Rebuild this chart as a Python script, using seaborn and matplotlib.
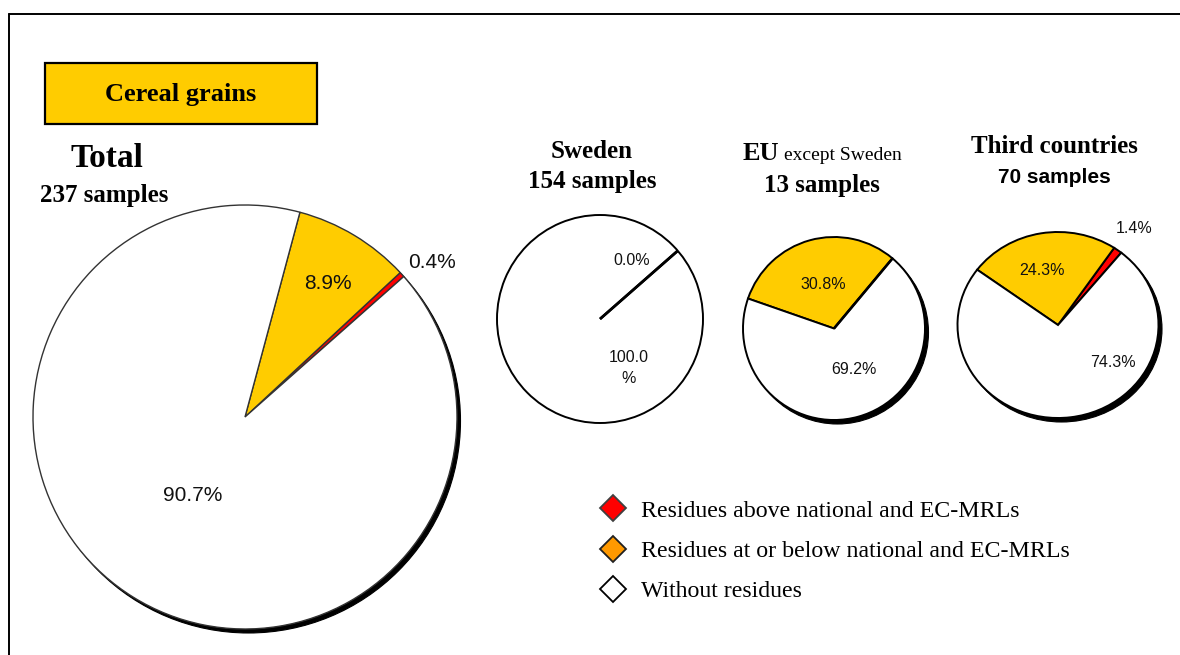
import matplotlib
matplotlib.use("Agg")
import numpy as np
import matplotlib.pyplot as plt
from matplotlib.patches import Circle, Rectangle
from matplotlib.lines import Line2D
import seaborn as sns

# ---- data -------------------------------------------------------------
categories = ["Residues above national and EC-MRLs",
              "Residues at or below national and EC-MRLs",
              "Without residues"]
origins = ["Total", "Sweden", "EU", "Third countries"]
sample_counts = [237, 154, 13, 70]
total_pct = [0.4, 8.9, 90.7]
sweden_pct = [0.0, 0.0, 100.0]
eu_pct = [0.0, 30.8, 69.2]
third_pct = [1.4, 24.3, 74.3]

slice_colors = ["#FF0000", "#FFCC00", "#FFFFFF"]
legend_colors = ["#FF0000", "#FF9900", "#FFFFFF"]
legend_edges = ["#404040", "#202020", "#000000"]

# ---- style --------------------------------------------------------------
sns.set_theme(style="white")
plt.rcParams["font.family"] = ["Liberation Sans", "DejaVu Sans"]
plt.rcParams["text.color"] = "black"
SERIF = ["Liberation Serif", "DejaVu Serif"]
SANS = ["Liberation Sans", "DejaVu Sans"]

W, H = 1180, 655
fig = plt.figure(figsize=(W / 100, H / 100), dpi=100)
fig.patch.set_facecolor("white")


def fx(x):
    return x / W


def fy(y):
    return 1 - y / H


# outer frame (top and left edges)
fig.add_artist(Line2D([fx(9), fx(W + 5)], [fy(14), fy(14)], color="black", lw=1.4))
fig.add_artist(Line2D([fx(9), fx(9)], [fy(14), fy(H + 5)], color="black", lw=1.4))

# header box
fig.add_artist(Rectangle((fx(45), fy(124)), fx(317) - fx(45), fy(63) - fy(124),
                         facecolor="#FFCC00", edgecolor="black", lw=1.6))
fig.text(fx(181), fy(94), "Cereal grains", family=SERIF, weight="bold",
         fontsize=19, ha="center", va="center", color="black")

# ---- pies -------------------------------------------------------------
# layout per pie: centre (px), radii (px), start angle, edge style, shadow,
# label placements in radius units (None = no label)
pies = [
    dict(vals=total_pct, c=(245, 417), r=(212, 212), start=41.5, ec="#333333", lw=1.0,
         shadow=True, fs=15,
         lab=[(0.88, 0.73), (0.39, 0.63), (-0.245, -0.37)]),
    dict(vals=sweden_pct, c=(600, 319), r=(103, 104), start=41.0, ec="black", lw=1.4,
         shadow=False, fs=11.5,
         lab=[None, (0.31, 0.56), (0.28, -0.47)]),
    dict(vals=eu_pct, c=(834, 328.5), r=(91, 91.5), start=50.0, ec="black", lw=1.4,
         shadow=True, fs=11.5,
         lab=[None, (-0.12, 0.48), (0.22, -0.45)]),
    dict(vals=third_pct, c=(1058, 325), r=(100.5, 93), start=51.0, ec="black", lw=1.4,
         shadow=True, fs=11.5,
         lab=[(0.76, 1.04), (-0.16, 0.59), (0.55, -0.40)]),
]

M = 1.3
for p in pies:
    cx, cy = p["c"]
    rx, ry = p["r"]
    ax = fig.add_axes([fx(cx - M * rx), fy(cy + M * ry), 2 * M * rx / W, 2 * M * ry / H])
    if p["shadow"]:
        ax.add_patch(Circle((3.5 / rx, -4.0 / ry), 1.0, facecolor="black",
                            edgecolor="black", lw=0.8, zorder=0))
    wedges, _ = ax.pie(p["vals"], colors=slice_colors, startangle=p["start"],
                       counterclock=True,
                       wedgeprops=dict(edgecolor=p["ec"], linewidth=p["lw"]))
    for w in wedges:
        w.set_zorder(2)
    # empty slices collapse to a radial stroke at their position
    cum = np.concatenate([[0.0], np.cumsum(p["vals"])]) / np.sum(p["vals"])
    for i, v in enumerate(p["vals"]):
        if v == 0:
            ang = np.deg2rad(p["start"] + 360 * cum[i])
            ax.plot([0, np.cos(ang)], [0, np.sin(ang)], color=p["ec"],
                    lw=p["lw"] + 0.5, solid_capstyle="butt", zorder=3)
    for v, pos in zip(p["vals"], p["lab"]):
        if pos is None:
            continue
        txt = f"{v:.1f}%"
        if v >= 100:
            txt = f"{v:.1f}\n%"
        ax.text(pos[0], pos[1], txt, ha="center", va="center", fontsize=p["fs"],
                family=SANS, color="#111111", linespacing=1.45, zorder=5)
    ax.set_aspect("auto")
    ax.set_xlim(-M, M)
    ax.set_ylim(-M, M)
    ax.axis("off")

# ---- titles -----------------------------------------------------------
fig.text(fx(107), fy(167), origins[0], family=SERIF, weight="bold", fontsize=24,
         ha="center", va="baseline")
fig.text(fx(104), fy(202), f"{sample_counts[0]} samples", family=SERIF, weight="bold",
         fontsize=18, ha="center", va="baseline")

fig.text(fx(592), fy(158), origins[1], family=SERIF, weight="bold", fontsize=18,
         ha="center", va="baseline")
fig.text(fx(592), fy(188), f"{sample_counts[1]} samples", family=SERIF, weight="bold",
         fontsize=18, ha="center", va="baseline")

fig.text(fx(743), fy(160), origins[2], family=SERIF, weight="bold", fontsize=19,
         ha="left", va="baseline")
fig.text(fx(784), fy(160), "except Sweden", family=SERIF, fontsize=14,
         ha="left", va="baseline")
fig.text(fx(822), fy(192), f"{sample_counts[2]} samples", family=SERIF, weight="bold",
         fontsize=18, ha="center", va="baseline")

fig.text(fx(1054), fy(153), origins[3], family=SERIF, weight="bold", fontsize=18,
         ha="center", va="baseline")
fig.text(fx(1054), fy(183), f"{sample_counts[3]} samples", family=SANS, weight="bold",
         fontsize=15, ha="center", va="baseline")

# ---- legend -------------------------------------------------------------
handles = [Line2D([], [], marker="D", linestyle="none", markersize=13,
                  markerfacecolor=fc, markeredgecolor=ec, markeredgewidth=1.3)
           for fc, ec in zip(legend_colors, legend_edges)]
leg = fig.legend(handles, categories, loc="upper left", bbox_to_anchor=(fx(602), fy(500)),
                 frameon=False, prop=dict(family=SERIF, size=17.2), handlelength=0.95,
                 handletextpad=0.7, labelspacing=0.78, borderpad=0, borderaxespad=0)
for t in leg.get_texts():
    t.set_color("black")

fig.savefig("out.png", dpi=100, facecolor="white")
